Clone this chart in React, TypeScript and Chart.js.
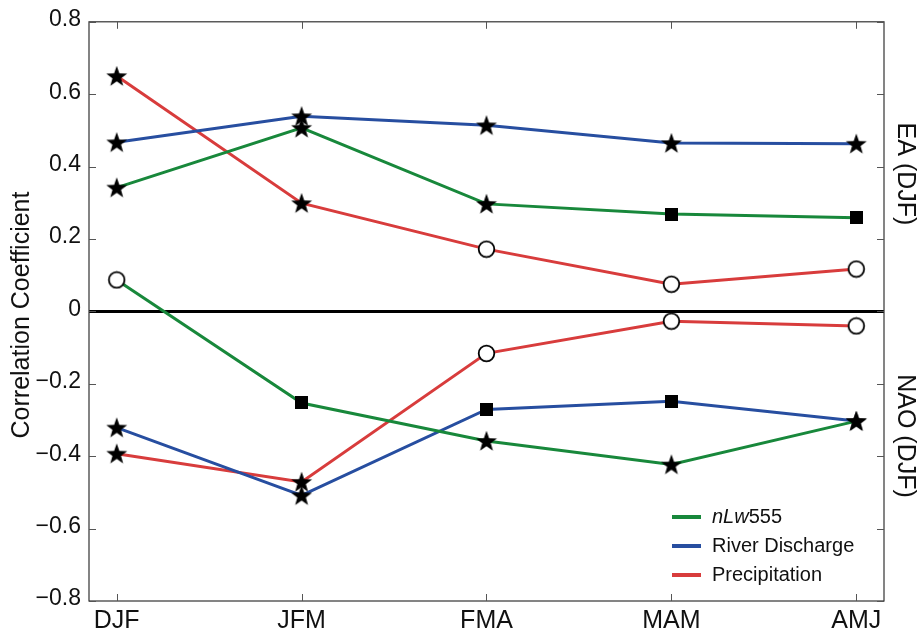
import React, { useEffect, useRef } from "react";
import { Chart, registerables } from "chart.js";

Chart.register(...registerables);

const categories = ["DJF", "JFM", "FMA", "MAM", "AMJ"];
const yTickValues = [-0.8, -0.6, -0.4, -0.2, 0, 0.2, 0.4, 0.6, 0.8];

// EA (DJF) correlations
const eaNlw = [0.342, 0.507, 0.297, 0.269, 0.259];
const eaRiver = [0.467, 0.539, 0.514, 0.465, 0.463];
const eaPrecip = [0.65, 0.299, 0.172, 0.075, 0.117];
// NAO (DJF) correlations
const naoNlw = [0.087, -0.253, -0.358, -0.423, -0.303];
const naoRiver = [-0.321, -0.508, -0.271, -0.248, -0.303];
const naoPrecip = [-0.393, -0.471, -0.116, -0.027, -0.04];

// marker per point
const eaNlwMarks = ["star", "star", "star", "square", "square"];
const eaRiverMarks = ["star", "star", "star", "star", "star"];
const eaPrecipMarks = ["star", "star", "circle", "circle", "circle"];
const naoNlwMarks = ["circle", "square", "star", "star", "star"];
const naoRiverMarks = ["star", "star", "square", "square", "star"];
const naoPrecipMarks = ["star", "star", "circle", "circle", "circle"];

const legendLabels = ["nLw555", "River Discharge", "Precipitation"];

const GREEN = "#18883b";
const BLUE = "#274ea0";
const RED = "#d83c3c";
const FONT = "'Liberation Sans', Arial, Helvetica, sans-serif";

function makeMarker(kind: string): HTMLCanvasElement {
  const c = document.createElement("canvas");
  if (kind === "star") {
    const s = 24;
    c.width = s;
    c.height = s;
    const ctx = c.getContext("2d")!;
    const cx = s / 2, cy = s / 2 + 0.8, R = 11, r = 4.5;
    ctx.beginPath();
    for (let i = 0; i < 10; i++) {
      const ang = -Math.PI / 2 + (i * Math.PI) / 5;
      const rad = i % 2 === 0 ? R : r;
      const x = cx + rad * Math.cos(ang);
      const y = cy + rad * Math.sin(ang);
      if (i === 0) ctx.moveTo(x, y);
      else ctx.lineTo(x, y);
    }
    ctx.closePath();
    ctx.fillStyle = "#000";
    ctx.fill();
  } else if (kind === "square") {
    const s = 13;
    c.width = s;
    c.height = s;
    const ctx = c.getContext("2d")!;
    ctx.fillStyle = "#000";
    ctx.fillRect(0, 0, s, s);
  } else {
    const s = 19;
    c.width = s;
    c.height = s;
    const ctx = c.getContext("2d")!;
    ctx.beginPath();
    ctx.arc(s / 2, s / 2, 7.8, 0, Math.PI * 2);
    ctx.fillStyle = "#fff";
    ctx.fill();
    ctx.lineWidth = 1.8;
    ctx.strokeStyle = "#000";
    ctx.stroke();
  }
  return c;
}

export default function App() {
  const ref = useRef<HTMLCanvasElement | null>(null);

  useEffect(() => {
    document.body.style.margin = "0";
    const markers: Record<string, HTMLCanvasElement> = {
      star: makeMarker("star"),
      square: makeMarker("square"),
      circle: makeMarker("circle"),
    };
    const mk = (vals: number[], marks: string[], color: string) => ({
      data: categories.map((_, i) => ({ x: i, y: vals[i] })),
      borderColor: color,
      borderWidth: 3,
      pointStyle: marks.map((m) => markers[m]),
      pointRadius: 8,
      tension: 0,
    });

    const framePlugin = {
      id: "frame",
      beforeDatasetsDraw(chart: any) {
        const { ctx, chartArea: a, scales } = chart;
        const y0 = scales.y.getPixelForValue(0);
        ctx.save();
        ctx.strokeStyle = "#000";
        ctx.lineWidth = 3;
        ctx.beginPath();
        ctx.moveTo(a.left, y0);
        ctx.lineTo(a.right, y0);
        ctx.stroke();
        ctx.restore();
      },
      afterDraw(chart: any) {
        const { ctx, chartArea: a, scales } = chart;
        ctx.save();
        ctx.strokeStyle = "#333";
        ctx.lineWidth = 1.2;
        ctx.strokeRect(a.left, a.top, a.right - a.left, a.bottom - a.top);
        ctx.strokeStyle = "#555";
        ctx.lineWidth = 1;
        const tl = 7;
        ctx.beginPath();
        for (const t of scales.y.ticks) {
          const y = Math.round(scales.y.getPixelForValue(t.value)) + 0.5;
          ctx.moveTo(a.left, y);
          ctx.lineTo(a.left + tl, y);
          ctx.moveTo(a.right, y);
          ctx.lineTo(a.right - tl, y);
        }
        for (const t of scales.x.ticks) {
          const x = Math.round(scales.x.getPixelForValue(t.value)) + 0.5;
          ctx.moveTo(x, a.bottom);
          ctx.lineTo(x, a.bottom - tl);
          ctx.moveTo(x, a.top);
          ctx.lineTo(x, a.top + tl);
        }
        ctx.stroke();

        // y axis title
        ctx.fillStyle = "#111";
        ctx.font = `25px ${FONT}`;
        ctx.textAlign = "center";
        ctx.textBaseline = "middle";
        ctx.save();
        ctx.translate(22, 315);
        ctx.rotate(-Math.PI / 2);
        ctx.fillText("Correlation Coefficient", 0, 0);
        ctx.restore();

        // right labels
        ctx.font = `25px ${FONT}`;
        ctx.save();
        ctx.translate(905, 174);
        ctx.rotate(Math.PI / 2);
        ctx.fillText("EA (DJF)", 0, 0);
        ctx.restore();
        ctx.save();
        ctx.translate(905, 436);
        ctx.rotate(Math.PI / 2);
        ctx.fillText("NAO (DJF)", 0, 0);
        ctx.restore();

        // legend
        const colors = [GREEN, BLUE, RED];
        const ys = [517, 546, 575];
        ctx.textAlign = "left";
        ctx.textBaseline = "middle";
        for (let i = 0; i < 3; i++) {
          ctx.strokeStyle = colors[i];
          ctx.lineWidth = 4;
          ctx.beginPath();
          ctx.moveTo(672, ys[i]);
          ctx.lineTo(701, ys[i]);
          ctx.stroke();
          ctx.fillStyle = "#111";
          if (i === 0) {
            const it = legendLabels[0].slice(0, 3);
            const rest = legendLabels[0].slice(3);
            ctx.font = `italic 20px ${FONT}`;
            ctx.fillText(it, 712, ys[i]);
            const w = ctx.measureText(it).width;
            ctx.font = `20px ${FONT}`;
            ctx.fillText(rest, 712 + w, ys[i]);
          } else {
            ctx.font = `20px ${FONT}`;
            ctx.fillText(legendLabels[i], 712, ys[i]);
          }
        }
        ctx.restore();
      },
    };

    const chart = new Chart(ref.current!, {
      type: "line",
      data: {
        datasets: [
          mk(eaNlw, eaNlwMarks, GREEN),
          mk(eaRiver, eaRiverMarks, BLUE),
          mk(eaPrecip, eaPrecipMarks, RED),
          mk(naoNlw, naoNlwMarks, GREEN),
          mk(naoRiver, naoRiverMarks, BLUE),
          mk(naoPrecip, naoPrecipMarks, RED),
        ] as any,
      },
      options: {
        animation: false,
        responsive: false,
        devicePixelRatio: 1,
        layout: { padding: { top: 18, right: 35, left: 0, bottom: 0 } },
        plugins: { legend: { display: false }, tooltip: { enabled: false } },
        scales: {
          x: {
            type: "linear",
            min: -0.15,
            max: 4.15,
            afterBuildTicks: (s: any) => {
              s.ticks = categories.map((_, i) => ({ value: i }));
            },
            afterFit: (s: any) => {
              s.height = 30;
            },
            grid: { display: false, drawTicks: false },
            border: { display: false },
            ticks: {
              padding: 5,
              color: "#111",
              font: { size: 25, family: FONT },
              callback: (v: any) => categories[Math.round(Number(v))],
              maxRotation: 0,
            },
          },
          y: {
            min: -0.8,
            max: 0.8,
            afterBuildTicks: (s: any) => {
              s.ticks = yTickValues.map((v) => ({ value: v }));
            },
            afterFit: (s: any) => {
              s.width = 89;
            },
            grid: { display: false, drawTicks: false },
            border: { display: false },
            ticks: {
              padding: 8,
              labelOffset: -2,
              color: "#111",
              font: { size: 23, family: FONT },
              callback: (v: any) => {
                const n = Number(v);
                if (Math.abs(n) < 1e-9) return "0";
                return (n < 0 ? "\u2212" : "") + Math.abs(n).toFixed(1);
              },
            },
          },
        },
      },
      plugins: [framePlugin],
    });
    return () => chart.destroy();
  }, []);

  return (
    <div style={{ position: "absolute", left: 0, top: 0, width: 919, height: 631 }}>
      <canvas ref={ref} width={919} height={631} />
    </div>
  );
}
